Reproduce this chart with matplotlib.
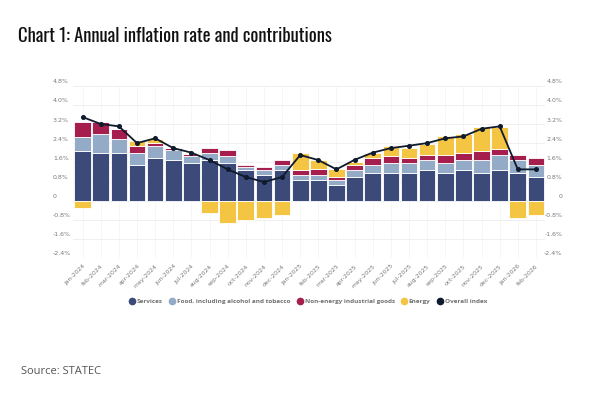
import matplotlib
matplotlib.use("Agg")
import matplotlib.pyplot as plt
from matplotlib.lines import Line2D
from matplotlib import font_manager as fm
import numpy as np

months = ["jan-2024", "feb-2024", "mar-2024", "apr-2024", "may-2024", "jun-2024",
          "jul-2024", "aug-2024", "sep-2024", "oct-2024", "nov-2024", "dec-2024",
          "jan-2025", "feb-2025", "mar-2025", "apr-2025", "may-2025", "jun-2025",
          "jul-2025", "aug-2025", "sep-2025", "oct-2025", "nov-2025", "dec-2025",
          "jan-2026", "feb-2026"]

services = [2.09, 1.98, 1.98, 1.48, 1.79, 1.69, 1.59, 1.69, 1.59, 1.30, 1.08, 1.30,
            0.88, 0.88, 0.67, 0.98, 1.17, 1.17, 1.17, 1.30, 1.17, 1.30, 1.17, 1.30,
            1.17, 0.98]
food = [0.59, 0.82, 0.61, 0.52, 0.51, 0.42, 0.29, 0.31, 0.28, 0.11, 0.22, 0.19,
        0.21, 0.21, 0.21, 0.32, 0.32, 0.41, 0.42, 0.39, 0.42, 0.40, 0.53, 0.60,
        0.52, 0.51]
neig = [0.60, 0.48, 0.40, 0.29, 0.10, 0.09, 0.06, 0.19, 0.24, 0.10, 0.10, 0.21,
        0.19, 0.22, 0.10, 0.19, 0.31, 0.30, 0.21, 0.21, 0.31, 0.30, 0.39, 0.28,
        0.21, 0.31]
energy = [-0.31, 0.0, 0.0, 0.22, 0.19, 0.0, 0.07, -0.53, -0.92, -0.82, -0.71, -0.61,
          0.73, 0.39, 0.33, 0.12, 0.18, 0.41, 0.39, 0.49, 0.81, 0.79, 0.99, 0.92,
          -0.71, -0.61]
overall = [3.50, 3.21, 3.11, 2.41, 2.61, 2.20, 2.01, 1.70, 1.31, 0.99, 0.78, 0.99,
           1.91, 1.70, 1.31, 1.71, 2.01, 2.20, 2.30, 2.41, 2.61, 2.69, 3.01, 3.11,
           1.31, 1.31]

yticks = [-2.4, -1.6, -0.8, 0, 0.8, 1.6, 2.4, 3.2, 4.0, 4.8]
ytick_labels = ["-2.4%", "-1.6%", "-0.8%", "0", "0.8%", "1.6%", "2.4%", "3.2%", "4.0%", "4.8%"]

series_names = ["Services", "Food, including alcohol and tobacco",
                "Non-energy industrial goods", "Energy", "Overall index"]
colors = ["#3b4a78", "#94abc8", "#a61e4d", "#f4c542", "#0f1a2c"]
title_text = "Chart 1: Annual inflation rate and contributions"
source_text = "Source: STATEC"

# pick a condensed font for the title if one is installed
title_props = dict(family=["Roboto", "DejaVu Sans"], stretch="normal")
cands = []
for f in fm.fontManager.ttflist:
    nm = f.name.lower()
    st = str(f.stretch).lower()
    score = None
    if "oswald" in nm:
        score = 0
    elif "narrow" in nm or "condensed" in nm:
        score = 1
    elif st in ("condensed", "semi-condensed", "extra-condensed", "ultra-condensed"):
        score = 2
    if score is not None and f.style == "normal":
        cands.append((score, abs((f.weight if isinstance(f.weight, int) else 400) - 450), f))
if cands:
    cands.sort(key=lambda t: (t[0], t[1]))
    best = cands[0][2]
    title_props = dict(fname=best.fname)

fig = plt.figure(figsize=(6.0, 3.99), dpi=100)
ax = fig.add_axes([73/600, 141/399, 472/600, 172/399])

x = np.arange(len(months))
S = np.array(services); F = np.array(food); N = np.array(neig); E = np.array(energy)
w = 0.92
kw = dict(width=w, edgecolor="white", linewidth=0.6, zorder=2)
ax.bar(x, S, color=colors[0], **kw)
ax.bar(x, F, bottom=S, color=colors[1], **kw)
ax.bar(x, N, bottom=S + F, color=colors[2], **kw)
pos_base = S + F + N
ebottom = np.where(E >= 0, pos_base, 0)
ax.bar(x, E, bottom=ebottom, color=colors[3], **kw)
ax.plot(x, overall, color=colors[4], lw=1.3, marker="o", ms=2.6, zorder=4)

ax.set_xlim(-0.53, len(months) - 0.5)
ax.set_ylim(-2.4, 4.8)
ax.set_yticks(yticks)
ax.set_yticklabels([])
ax.tick_params(axis="y", length=0)
for sp in ax.spines.values():
    sp.set_visible(False)
ax.grid(axis="y", color="#ececec", lw=0.6, zorder=0)
for xi in x:
    ax.axvline(xi, color="#f3f3f3", lw=0.5, zorder=0)

lab_col = "#7a7a7a"
for v, lab in zip(yticks, ytick_labels):
    ax.annotate(lab, xy=(0, v), xycoords=("axes fraction", "data"),
                xytext=(-14.5, 3), textcoords="offset points",
                ha="left", va="center", fontsize=4.5, color=lab_col)
    ax.annotate(lab, xy=(1, v), xycoords=("axes fraction", "data"),
                xytext=(12.5, 3), textcoords="offset points",
                ha="right", va="center", fontsize=4.5, color=lab_col)

ax.set_xticks(x)
ax.set_xticklabels(months, rotation=45, ha="right", va="top",
                   rotation_mode="anchor", fontsize=4.4, color=lab_col)
ax.tick_params(axis="x", length=0, pad=4)

handles = [Line2D([], [], ls="none", marker="o", ms=4.5, color=c) for c in colors]
leg = fig.legend(handles, series_names, loc="center", bbox_to_anchor=(308/600, 1 - 301.7/399),
                 ncol=5, frameon=False, handletextpad=0.2,
                 columnspacing=1.0, handlelength=1.0,
                 prop=dict(family=["Open Sans", "DejaVu Sans"], size=4.6, weight="bold"))
for t in leg.get_texts():
    t.set_color("#707070")

if "fname" in title_props:
    tprop = fm.FontProperties(fname=title_props["fname"])
else:
    tprop = fm.FontProperties(family=title_props["family"])
tprop.set_size(17)
title = fig.text(18/600, 1 - 35.5/399, title_text, fontproperties=tprop,
                 color="#111111", va="center", ha="left")
# fit title to the reference width (~314 px)
renderer = fig.canvas.get_renderer()
wpx = title.get_window_extent(renderer).width
tprop.set_size(min(17, 17 * 314 / wpx))
title.set_fontproperties(tprop)

fig.text(21/600, 1 - 372/399, source_text, family=["Open Sans", "DejaVu Sans"],
         fontsize=8, color="#555555", va="center", ha="left")

fig.savefig("out.png", dpi=100)
